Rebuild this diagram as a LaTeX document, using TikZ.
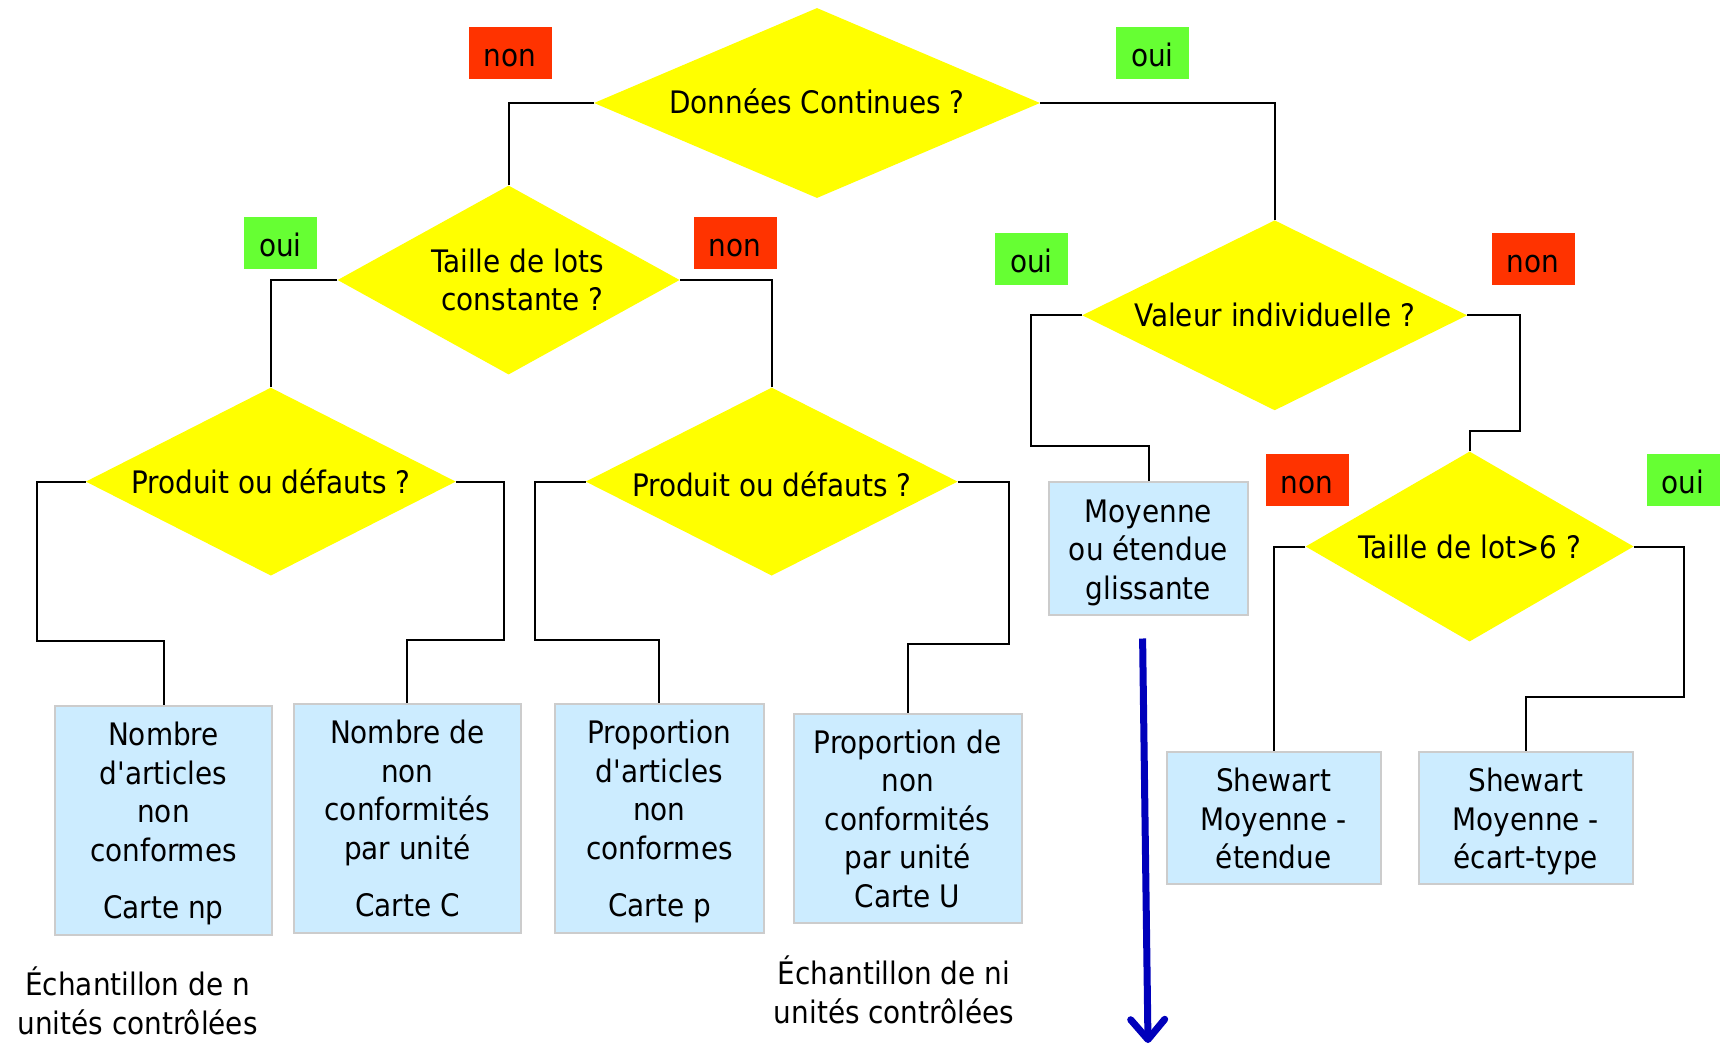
\documentclass[tikz,border=0pt]{standalone}
\usepackage{fontspec}
\setmainfont{DejaVu Sans Condensed}[Ligatures=TeXOff]
\usetikzlibrary{shapes.geometric}
\usetikzlibrary{arrows.meta}
\definecolor{questfill}{HTML}{FFFF00}
\definecolor{chartfill}{HTML}{CCECFF}
\definecolor{chartline}{HTML}{CCCCCC}
\definecolor{ouifill}{HTML}{66FF33}
\definecolor{nonfill}{HTML}{FF3300}
\definecolor{arrowblue}{HTML}{0000BB}
\newcommand{\chtop}{\rule{0pt}{34pt}}
\newcommand{\chbot}{\rule[-10pt]{0pt}{10pt}}

\begin{document}
\begin{tikzpicture}[x=1pt, y=-1pt,
    txt/.style={font=\fontsize{31}{38.5}\selectfont},
    question/.style={txt, diamond, fill=questfill, inner sep=0pt, aspect=2.2, align=center},
    chart/.style={txt, rectangle, fill=chartfill, draw=chartline, line width=2pt, inner sep=0pt, align=center},
    ouibox/.style={txt, fill=ouifill, minimum width=73pt, minimum height=52pt, inner sep=0pt, text height=27pt, text depth=0pt},
    nonbox/.style={txt, fill=nonfill, minimum width=83pt, minimum height=52pt, inner sep=0pt, text height=27pt, text depth=0pt},
    link/.style={draw=black, line width=2pt},
    bigarrow/.style={draw=arrowblue, line width=7pt, -{Straight Barb[length=20pt, width=34pt, round]}}]
        \useasboundingbox (0,0) rectangle (1726,1046);
        % questions
        \node[question, minimum width=446pt, minimum height=190pt] (Q1) at (817,103) {\raisebox{2pt}[\height][\depth]{Données Continues ?}};
        \node[question, minimum width=342pt, minimum height=189pt] (Q2) at (508.6,280) {\hspace*{18pt}Taille de lots\\ \hspace*{28pt}constante ?};
        \node[question, minimum width=370pt, minimum height=188pt] (Q3) at (270.8,481.6) {Produit ou défauts ?};
        \node[question, minimum width=372pt, minimum height=188pt] (Q4) at (771.7,481.6) {\raisebox{-3pt}[\height][\depth]{Produit ou défauts ?}};
        \node[question, minimum width=385pt, minimum height=190pt] (Q5) at (1274.7,315.3) {Valeur individuelle ?};
        \node[question, minimum width=328pt, minimum height=190pt] (Q6) at (1469.6,546.5) {Taille de lot>6 ?};
        % answers
        \node[nonbox] (n1) at (510,53) {non};
        \node[ouibox] (o1) at (1152.5,53) {oui};
        \node[ouibox] (o2) at (280.5,243) {oui};
        \node[nonbox] (n2) at (735,243) {non};
        \node[ouibox] (o3) at (1031.5,258.5) {oui};
        \node[nonbox] (n3) at (1533,258.5) {non};
        \node[nonbox] (n4) at (1307,480) {non};
        \node[ouibox] (o4) at (1683,480) {oui};
        % charts
        \node[chart, minimum width=217pt, minimum height=229pt] (C1) at (163.5,820) {\chtop Nombre\\ d'articles\\ non\\ conformes\\[19pt] Carte np\chbot};
        \node[chart, minimum width=227pt, minimum height=229pt] (C2) at (407.3,818) {\chtop Nombre de\\ non\\ conformités\\ par unité\\[19pt] Carte C\chbot};
        \node[chart, minimum width=209pt, minimum height=229pt] (C3) at (659.4,818) {\chtop Proportion\\ d'articles\\ non\\ conformes\\[19pt] Carte p\chbot};
        \node[chart, minimum width=228pt, minimum height=209pt] (C4) at (907.6,818) {\chtop Proportion de\\ non\\ conformités\\ par unité\\ Carte U\chbot};
        \node[chart, minimum width=199pt, minimum height=133pt] (C5) at (1148.5,548.5) {\chtop Moyenne\\ ou étendue\\ glissante\chbot};
        \node[chart, minimum width=214pt, minimum height=132pt] (C6) at (1273.6,818) {\chtop Shewart\\ Moyenne -\\ étendue\chbot};
        \node[chart, minimum width=214pt, minimum height=132pt] (C7) at (1525.7,818) {\chtop Shewart\\ Moyenne -\\ écart-type\chbot};
        % notes
        \node[txt, align=center] (s1) at (137.6,1001) {Échantillon de n\\ unités contrôlées};
        \node[txt, align=center] (s2) at (894,990) {Échantillon de ni\\ unités contrôlées};
        % links
        \draw[link] (Q1.west) -| (Q2.north);
        \draw[link] (Q1.east) -| (Q5.north);
        \draw[link] (Q2.west) -| (Q3.north);
        \draw[link] (Q2.east) -| (Q4.north);
        \draw[link] (Q3.west) -- ++(-49,0) |- ([yshift=64pt]C1.north) -- (C1.north);
        \draw[link] (Q3.east) -- ++(47.5,0) |- ([yshift=62.7pt]C2.north) -- (C2.north);
        \draw[link] (Q4.west) -- ++(-50.7,0) |- ([yshift=62.7pt]C3.north) -- (C3.north);
        \draw[link] (Q4.east) -- ++(50.6,0) |- ([yshift=68.3pt]C4.north) -- (C4.north);
        \draw[link] (Q5.west) -- ++(-50.7,0) |- ([yshift=35pt]C5.north) -- (C5.north);
        \draw[link] (Q5.east) -- ++(52.9,0) |- ([yshift=20.5pt]Q6.north) -- (Q6.north);
        \draw[link] (Q6.west) -| (C6.north);
        \draw[link] (Q6.east) -- ++(50.6,0) |- ([yshift=54pt]C7.north) -- (C7.north);
        % arrow
        \coordinate (arrS) at (1142.6,638.5);
        \coordinate (arrE) at (1148,1043);
        \draw[bigarrow] (arrS) -- (arrE);
    \end{tikzpicture}
\end{document}
